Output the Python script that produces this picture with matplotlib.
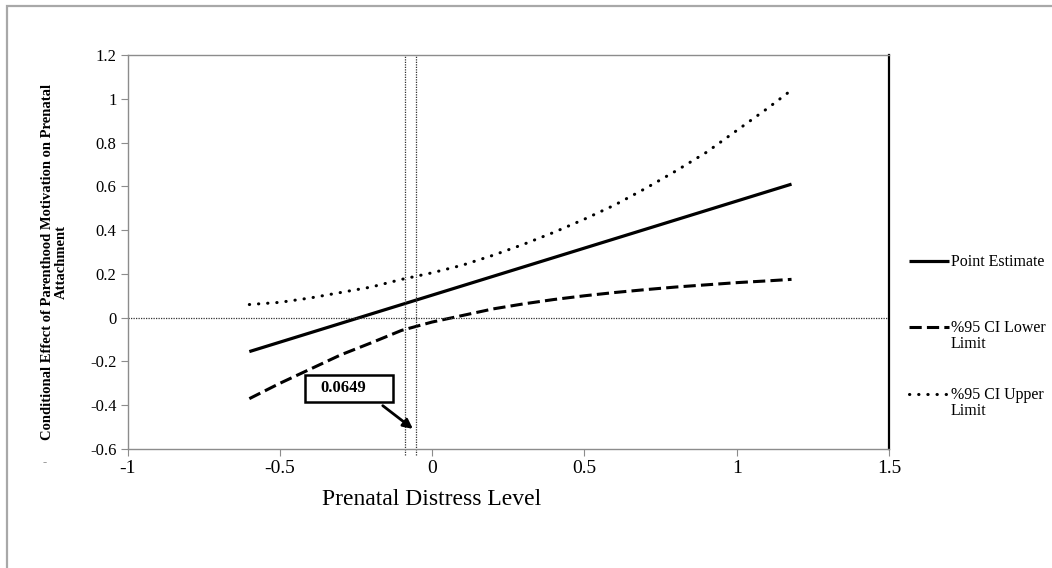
import matplotlib
matplotlib.use('Agg')
import matplotlib.pyplot as plt
from matplotlib.lines import Line2D
from matplotlib.patches import Rectangle
from matplotlib.ticker import FuncFormatter

plt.rcParams['font.family'] = ['Liberation Serif', 'DejaVu Serif']

# moderator values (prenatal distress)
x_est = [-0.6, 1.18]
point_est = [-0.155, 0.61]

x_ci = [-0.6, -0.5, -0.4, -0.3, -0.2, -0.1, 0.0, 0.1, 0.2, 0.3, 0.4, 0.5,
        0.6, 0.7, 0.8, 0.9, 1.0, 1.1, 1.18]
ci_lower = [-0.37, -0.30, -0.235, -0.17, -0.115, -0.058, -0.02, 0.01, 0.04,
            0.063, 0.083, 0.10, 0.115, 0.128, 0.14, 0.15, 0.16, 0.168, 0.175]
ci_upper = [0.06, 0.07, 0.09, 0.115, 0.14, 0.175, 0.205, 0.24, 0.285, 0.335,
            0.39, 0.45, 0.515, 0.59, 0.67, 0.755, 0.855, 0.955, 1.04]

jn_lines = [-0.09, -0.052]
jn_label = '0.0649'

legend_labels = ['Point Estimate', '%95 CI Lower\nLimit', '%95 CI Upper\nLimit']

W, H = 1052, 568


def fx(px):
    return px / W


def fy(py):
    return 1 - py / H


fig = plt.figure(figsize=(W / 100, H / 100), dpi=100)
ax = fig.add_axes([fx(127.5), fy(449), fx(889) - fx(127.5), fy(55) - fy(449)])

solid = dict(color='black', lw=2.3, solid_capstyle='butt')
dashed = dict(color='black', lw=2.2, linestyle=(0, (4, 1.7)), dash_capstyle='butt')
dotted = dict(color='black', lw=2.2, linestyle=(0, (0.1, 2.9)), dash_capstyle='round')

ax.plot(x_est, point_est, **solid)
ax.plot(x_ci, ci_lower, **dashed)
ax.plot(x_ci, ci_upper, **dotted)

ax.axhline(0, color='#333333', lw=0.9, linestyle=(0, (1, 1)))
for v in jn_lines:
    ax.axvline(v, ymin=-0.016, ymax=1, color='#333333', lw=0.9,
               linestyle=(0, (1, 1)), clip_on=False)

ax.set_xlim(-1, 1.5)
ax.set_ylim(-0.6, 1.2)
ax.set_xticks([-1, -0.5, 0, 0.5, 1, 1.5])
ax.set_yticks([-0.6, -0.4, -0.2, 0, 0.2, 0.4, 0.6, 0.8, 1, 1.2])
fmt = FuncFormatter(lambda v, p: '%g' % round(v, 2) if abs(v) > 1e-9 else '0')
ax.xaxis.set_major_formatter(fmt)
ax.yaxis.set_major_formatter(fmt)
ax.tick_params(axis='x', labelsize=14, length=5, color='#8c8c8c', pad=3)
ax.tick_params(axis='y', labelsize=12, length=5, color='#8c8c8c', pad=3)

for s in ['left', 'bottom', 'top']:
    ax.spines[s].set_color('#8c8c8c')
    ax.spines[s].set_linewidth(1.0)
ax.spines['right'].set_color('black')
ax.spines['right'].set_linewidth(1.6)

ax.set_xlabel('Prenatal Distress Level', fontsize=17, va='top')
ax.xaxis.set_label_coords(0.40, -0.102)
ax.set_ylabel('Conditional Effect of Parenthood Motivation on Prenatal\nAttachment',
              fontsize=10.5, fontweight='bold', linespacing=1.1)
ax.yaxis.set_label_coords(-0.078, 0.475)

# annotation box with arrow (data units)
box_x0, box_x1 = -0.418, -0.129
box_y0, box_y1 = -0.386, -0.260
ax.add_patch(Rectangle((box_x0, box_y0), box_x1 - box_x0, box_y1 - box_y0,
                       fill=True, facecolor='white', edgecolor='black', lw=1.8, zorder=5))
ax.text(-0.293, -0.323, jn_label, fontsize=12, fontweight='bold',
        ha='center', va='center', zorder=6)
ax.annotate('', xy=(-0.063, -0.508), xytext=(-0.162, -0.402),
            arrowprops=dict(arrowstyle='-|>', lw=2.0, color='black', mutation_scale=14,
                            shrinkA=0, shrinkB=0))

# legend drawn at the right of the plot area
leg_y = [260.6, 326.7, 393.7]
styles = [solid, dashed, dotted]
for yy, st, lab in zip(leg_y, styles, legend_labels):
    fig.add_artist(Line2D([fx(909), fx(949)], [fy(yy), fy(yy)],
                          transform=fig.transFigure, **st))
    fig.text(fx(951), fy(yy - 7), lab, fontsize=11.5, ha='left', va='top',
             linespacing=1.0)

# stray mark left of the axis
fig.text(fx(45), fy(463), '-', fontsize=9, color='#9a9a9a', ha='center', va='center')

# outer chart border
fig.add_artist(Rectangle((fx(7), -0.2), 1.2, fy(5.5) + 0.2, transform=fig.transFigure,
                         fill=False, edgecolor='#a8a8a8', lw=1.6))

fig.savefig('out.png', dpi=100)
